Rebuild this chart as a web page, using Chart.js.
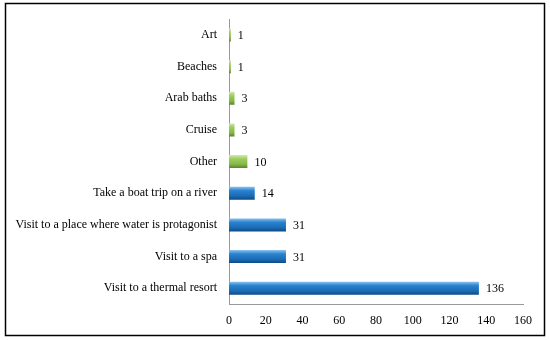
<!DOCTYPE html>
<html><head><meta charset="utf-8">
<script src="https://cdn.jsdelivr.net/npm/chart.js@4.4.1/dist/chart.umd.min.js"></script>
<style>html,body{margin:0;padding:0;background:#fff}#wrap{width:550px;height:340px;position:relative}</style>
</head><body><div id="wrap"><canvas id="c" width="550" height="340"></canvas></div>
<script>
const categories = ["Art","Beaches","Arab baths","Cruise","Other","Take a boat trip on a river","Visit to a place where water is protagonist","Visit to a spa","Visit to a thermal resort"];
const values = [1,1,3,3,10,14,31,31,136];
const groups = ["green","green","green","green","green","blue","blue","blue","blue"];
const xTicks = [0,20,40,60,80,100,120,140,160];

const FONT = "'Liberation Serif', 'Times New Roman', serif";
const palettes = {
  green: ["#d2eaa8","#9ccc5e","#86b947","#5a8429"],
  blue:  ["#8cc3ee","#2a82cf","#1b6cb6","#0f4a85"]
};

const gradientPlugin = {
  id:'grad',
  beforeDatasetDraw(chart){
    const ctx = chart.ctx;
    const meta = chart.getDatasetMeta(0);
    meta.data.forEach((el,i)=>{
      const h = el.height, top = el.y - h/2;
      const p = palettes[groups[i]];
      const g = ctx.createLinearGradient(0, top, 0, top+h);
      g.addColorStop(0, p[0]); g.addColorStop(0.3, p[1]); g.addColorStop(0.7, p[2]); g.addColorStop(1, p[3]);
      el.options = Object.assign({}, el.options, { backgroundColor: g });
    });
  },
  afterDatasetDraw(chart){
    const ctx = chart.ctx;
    const meta = chart.getDatasetMeta(0);
    ctx.save();
    ctx.font = "12px " + FONT;
    ctx.fillStyle = "#000";
    ctx.textBaseline = "middle";
    ctx.textAlign = "left";
    meta.data.forEach((el,i)=>{
      ctx.fillText(String(values[i]), el.x + 7, el.y + 1);
    });
    ctx.restore();
  },
  afterDraw(chart){
    const ctx = chart.ctx;
    ctx.save();
    ctx.strokeStyle = "#000";
    ctx.lineWidth = 1.5;
    ctx.strokeRect(5.5, 3.5, 539, 332);
    ctx.restore();
  }
};

new Chart(document.getElementById('c'), {
  type:'bar',
  data:{ labels: categories, datasets:[{ data: values, borderWidth:0, barPercentage:0.82, categoryPercentage:0.5,
    backgroundColor:(c)=> groups[c.dataIndex]==='green' ? "#8fc44f" : "#2a82cf" }]},
  options:{
    indexAxis:'y',
    responsive:false,
    animation:false,
    devicePixelRatio:1,
    layout:{ padding:{ top:17, right:27, left:0, bottom:0 } },
    plugins:{ legend:{display:false}, tooltip:{enabled:false} },
    scales:{
      x:{
        min:0, max:160,
        afterBuildTicks(s){ s.ticks = xTicks.map(v=>({value:v})); },
        grid:{ display:false, drawTicks:false },
        border:{ display:true, color:"#9a9a9a", width:1 },
        ticks:{ font:{ family:FONT, size:12 }, color:"#000", padding:10, maxRotation:0 },
        afterFit(s){ s.height = 36; }
      },
      y:{
        grid:{ display:false, drawTicks:false },
        border:{ display:true, color:"#9a9a9a", width:1 },
        ticks:{ font:{ family:FONT, size:12 }, color:"#000", padding:12 },
        afterFit(s){ s.width = 229; }
      }
    }
  },
  plugins:[gradientPlugin]
});
</script></body></html>
